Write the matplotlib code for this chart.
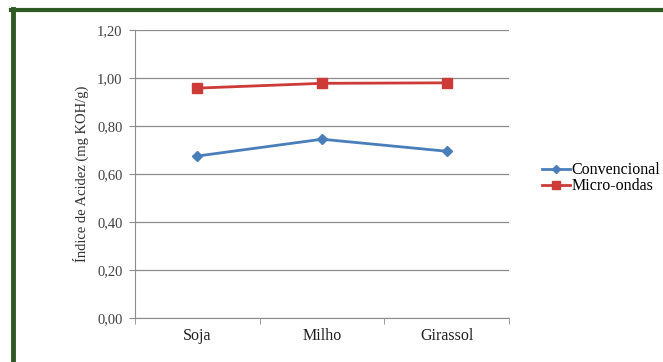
import matplotlib
matplotlib.use("Agg")
import matplotlib.pyplot as plt
from matplotlib.lines import Line2D

# acid index per oil, conventional vs microwave extraction
oils = ["Soja", "Milho", "Girassol"]
convencional = [0.675, 0.745, 0.695]
micro_ondas = [0.958, 0.978, 0.980]
yticks = [0.0, 0.2, 0.4, 0.6, 0.8, 1.0, 1.2]
ytick_labels = ["0,00", "0,20", "0,40", "0,60", "0,80", "1,00", "1,20"]

plt.rcParams["font.family"] = ["Liberation Serif", "DejaVu Serif"]

fig = plt.figure(figsize=(6.63, 3.62), dpi=100)
ax = fig.add_axes([0.2036, 0.1215, 0.5640, 0.7955])

x = range(len(oils))
ax.plot(x, convencional, color="#4a7ebb", lw=2, marker="D", ms=5,
        mfc="#4a7ebb", mec="#4a7ebb", label="Convencional")
ax.plot(x, micro_ondas, color="#cc3b38", lw=2, marker="s", ms=7.5,
        mfc="#cc3b38", mec="#cc3b38", label="Micro-ondas")

ax.set_xlim(-0.5, len(oils) - 0.5)
ax.set_ylim(0, 1.2)
ax.set_yticks(yticks)
ax.set_yticklabels(ytick_labels, fontsize=10.5, color="#404040")
ax.set_xticks(list(x))
ax.set_xticklabels(oils, fontsize=11.5, color="#202020")
ax.set_xticks([-0.5, 0.5, 1.5, 2.5], minor=True)
ax.tick_params(axis="x", which="major", length=0, pad=7)
ax.tick_params(axis="x", which="minor", length=4, color="#8c8c8c")
ax.tick_params(axis="y", length=4, color="#8c8c8c", pad=5)
ax.grid(axis="y", color="#8c8c8c", lw=0.9)
ax.set_axisbelow(True)
for side in ("top", "right"):
    ax.spines[side].set_visible(False)
for side in ("left", "bottom"):
    ax.spines[side].set_color("#8c8c8c")
ax.set_ylabel("Índice de Acidez (mg KOH/g)", fontsize=10.5, color="#303030", labelpad=6)

ax.legend(loc="center left", bbox_to_anchor=(1.05, 0.485), frameon=False,
          fontsize=11.5, handlelength=1.75, handletextpad=0.1, labelspacing=0.0,
          markerscale=0.8)

# green frame along the top and left edges
fig.add_artist(Line2D([12.5 / 663, 12.5 / 663], [0, 1 - 9 / 362],
                      transform=fig.transFigure, color="#2f5a24", lw=3.5))
fig.add_artist(Line2D([11 / 663, 1], [1 - 10 / 362, 1 - 10 / 362],
                      transform=fig.transFigure, color="#2f5a24", lw=3.0))

fig.savefig("out.png", dpi=100)
